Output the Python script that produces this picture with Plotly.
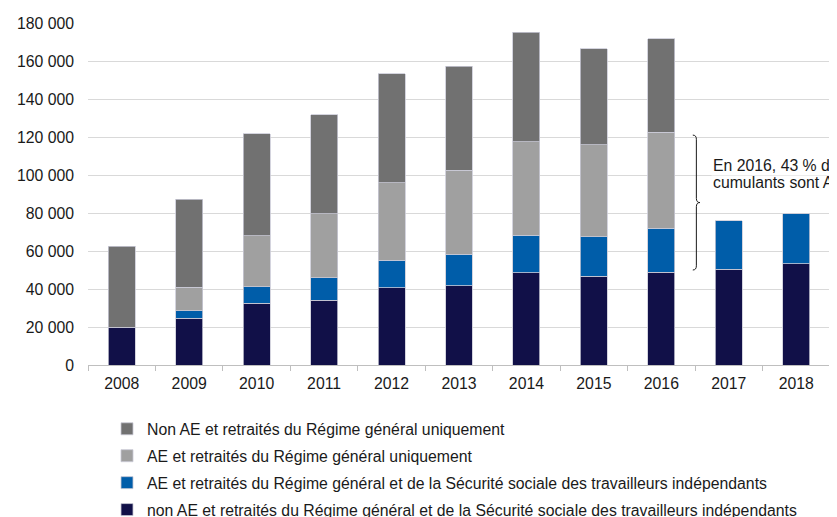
import plotly.graph_objects as go

years = ["2008", "2009", "2010", "2011", "2012", "2013", "2014", "2015", "2016", "2017", "2018"]

# stacked components (bottom to top)
non_ae_rg_ssti = [20000, 24500, 32500, 34200, 40700, 41700, 48600, 46800, 48800, 50400, 53200]
ae_rg_ssti = [None, 4100, 8700, 11800, 14400, 16500, 19800, 20600, 23100, 25600, 26500]
ae_rg_only = [None, 12300, 26700, 33500, 40900, 44400, 49000, 48400, 50700, None, None]
non_ae_rg_only = [42500, 46300, 53700, 52300, 57300, 54700, 57700, 50700, 49000, None, None]

names = [
    "non AE et retraités du Régime général et de la Sécurité sociale des travailleurs indépendants",
    "AE et retraités du Régime général et de la Sécurité sociale des travailleurs indépendants",
    "AE et retraités du Régime général uniquement",
    "Non AE et retraités du Régime général uniquement",
]
colors = ["#111048", "#005DA9", "#A0A0A0", "#717171"]
series = [non_ae_rg_ssti, ae_rg_ssti, ae_rg_only, non_ae_rg_only]

y_tickvals = [0, 20000, 40000, 60000, 80000, 100000, 120000, 140000, 160000, 180000]
y_ticktext = ["0", "20 000", "40 000", "60 000", "80 000", "100 000", "120 000", "140 000", "160 000", "180 000"]

note_lines = ["En 2016, 43 % des", "cumulants sont AE"]
brace_top = 121000
brace_bottom = 50000

FS = 15.8

fig = go.Figure()
for i, (vals, name, col) in enumerate(zip(series, names, colors)):
    fig.add_trace(go.Bar(
        x=years, y=vals, name=name,
        marker=dict(color=col, line=dict(color="#c9c9d6", width=0.8)),
        width=0.4, legendgroup=f"g{i}", legendrank=10 - i,
    ))

# brace between 2016 and 2017 (category index ~8.52)
xv, xl, xr = 8.519, 8.466, 8.572
ym = (brace_top + brace_bottom) / 2
c = 2200
path = (f"M {xl},{brace_top} Q {xv},{brace_top} {xv},{brace_top - c} "
        f"L {xv},{ym + c} Q {xv},{ym} {xr},{ym} Q {xv},{ym} {xv},{ym - c} "
        f"L {xv},{brace_bottom + c} Q {xv},{brace_bottom} {xl},{brace_bottom}")
fig.add_shape(type="path", path=path, xref="x", yref="y",
              line=dict(color="#1a1a1a", width=1))

for k, (line, ypx) in enumerate(zip(note_lines, [165, 182])):
    fig.add_annotation(text=line, xref="paper", yref="paper",
                       x=(711 - 88) / 742, y=(365 - ypx) / 342,
                       xanchor="left", yanchor="middle", align="left",
                       showarrow=False,
                       bgcolor="white" if k == 0 else "rgba(0,0,0,0)",
                       borderpad=1,
                       font=dict(size=FS, color="#1a1a1a"))

# page body has an 8px margin: figure spans screen x 8..837, y 8..517
fig.update_layout(
    width=829, height=509,
    margin=dict(l=80, r=7, t=15, b=152, autoexpand=False),
    barmode="stack",
    plot_bgcolor="white", paper_bgcolor="white",
    font=dict(family="Liberation Sans, Arial, sans-serif", size=FS, color="#1a1a1a"),
    showlegend=True,
    legend=dict(
        traceorder="grouped", tracegroupgap=3.4,
        orientation="v", x=(107 - 88) / 742, xanchor="left",
        y=(365 - 412) / 342, yanchor="top",
        font=dict(size=FS, color="#1a1a1a"), itemwidth=30,
        bgcolor="rgba(0,0,0,0)",
    ),
    xaxis=dict(
        type="category", tickson="boundaries", ticks="outside", ticklen=5,
        tickcolor="#bfbfbf", showline=True, linecolor="#bfbfbf", linewidth=1,
        showgrid=False, range=[-0.5, 10.5], ticklabelstandoff=4,
    ),
    yaxis=dict(
        range=[0, 180000], tickvals=y_tickvals, ticktext=y_ticktext,
        showgrid=True, gridcolor="#d9d9d9", gridwidth=1, zeroline=False,
        showline=False, ticks="", ticklabelstandoff=13,
    ),
)

fig.write_html("out.html")
